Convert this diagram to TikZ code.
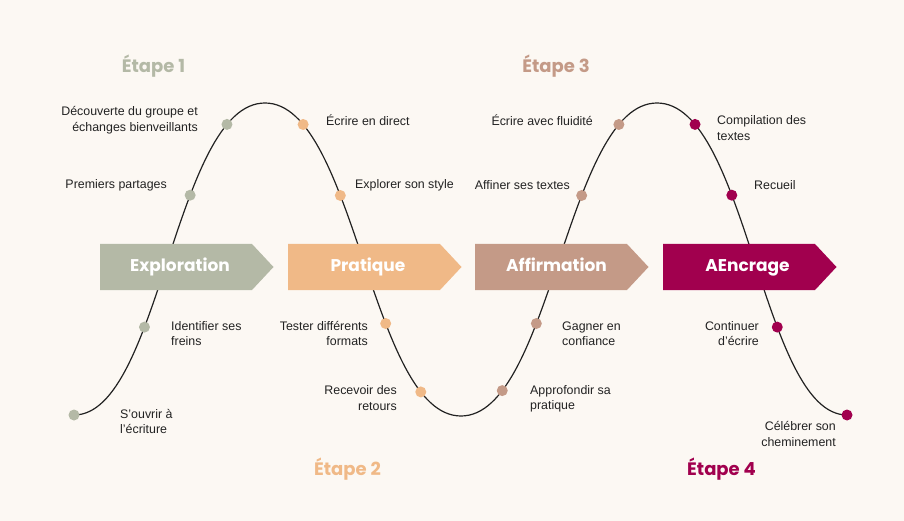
\documentclass[tikz,border=0pt]{standalone}
\usepackage{fontspec}
\setmainfont{Liberation Sans}
\newfontfamily\headfont{Poppins}
\usetikzlibrary{calc}
\definecolor{bg}{HTML}{FCF8F3}
\definecolor{sone}{HTML}{B4B9A6}
\definecolor{stwo}{HTML}{F0B987}
\definecolor{sthree}{HTML}{C49A87}
\definecolor{sfour}{HTML}{A1004E}
\definecolor{ink}{HTML}{222222}
\begin{document}
\begin{tikzpicture}[x=1pt,y=-1pt,
  dotnode/.style={circle,inner sep=0pt,minimum size=11pt},
  lbl/.style={font=\fontsize{12.4}{15.5}\selectfont,text=ink,inner sep=0pt},
  lblL/.style={lbl,align=left,anchor=west},
  lblR/.style={lbl,align=right,anchor=east},
  stagehead/.style={font=\headfont\bfseries\fontsize{18}{20}\selectfont,inner sep=0pt,anchor=base},
  phase/.style={font=\headfont\bfseries\fontsize{17}{20}\selectfont,text=white,inner sep=0pt,anchor=base},
  curve/.style={line width=1.2pt,draw=ink}]
\fill[bg] (0,0) rectangle (904,521);
\useasboundingbox (0,0) rectangle (904,521);

% curve anchors
\coordinate (c0) at (74,415);
\coordinate (p1) at (265,103);
\coordinate (t1) at (461,416);
\coordinate (p2) at (657,103);
\coordinate (c4) at (847,415);

\draw[curve] (c0) .. controls (160,415) and (175,103) .. (p1)
   node[pos=.35,dotnode,fill=sone] (a2) {}
   node[pos=.64,dotnode,fill=sone] (a3) {}
   node[pos=.84,dotnode,fill=sone] (a4) {}
  .. controls (355,103) and (371,416) .. (t1)
   node[pos=.16,dotnode,fill=stwo] (b1) {}
   node[pos=.36,dotnode,fill=stwo] (b2) {}
   node[pos=.64,dotnode,fill=stwo] (b3) {}
   node[pos=.83,dotnode,fill=stwo] (b4) {}
  .. controls (551,416) and (567,103) .. (p2)
   node[pos=.175,dotnode,fill=sthree] (e1) {}
   node[pos=.36,dotnode,fill=sthree] (e2) {}
   node[pos=.64,dotnode,fill=sthree] (e3) {}
   node[pos=.84,dotnode,fill=sthree] (e4) {}
  .. controls (747,103) and (762,415) .. (c4)
   node[pos=.16,dotnode,fill=sfour] (d1) {}
   node[pos=.36,dotnode,fill=sfour] (d2) {}
   node[pos=.65,dotnode,fill=sfour] (d3) {};
\node[dotnode,fill=sone] (a1) at (c0) {};
\node[dotnode,fill=sfour] (d4) at (c4) {};

% chevrons
\foreach \x/\c in {100/sone,288/stwo,475/sthree,663/sfour}{
  \fill[\c] (\x,244) -- (\x+152,244) -- (\x+173.5,267) -- (\x+152,290) -- (\x,290) -- cycle;
}
\node[phase] (ph1) at (180,271.5) {Exploration};
\node[phase] (ph2) at (368,271.5) {Pratique};
\node[phase] (ph3) at (556.5,271.5) {Affirmation};
\node[phase] (ph4) at (747.5,271.5) {AEncrage};

% stage titles
\node[stagehead,text=sone] (st1) at (153.5,72.5) {Étape 1};
\node[stagehead,text=stwo] (st2) at (347.5,475.5) {Étape 2};
\node[stagehead,text=sthree] (st3) at (556,72.5) {Étape 3};
\node[stagehead,text=sfour] (st4) at (721.5,475.5) {Étape 4};

% stage 1 labels
\node[lblL] (la1) at (120,421.5) {S’ouvrir à\\l’écriture};
\node[lblL] (la2) at (171,333.5) {Identifier ses\\freins};
\node[lblR] (la3) at (167,185) {Premiers partages};
\node[lblR] (la4) at (198,120) {Découverte du groupe et\\échanges bienveillants};
% stage 2 labels
\node[lblL] (lb1) at (326,120) {Écrire en direct};
\node[lblL] (lb2) at (355,185) {Explorer son style};
\node[lblR] (lb3) at (368,333.5) {Tester différents\\formats};
\node[lblR] (lb4) at (397,398) {Recevoir des\\retours};
% stage 3 labels
\node[lblL] (le1) at (530,399) {Approfondir sa\\pratique};
\node[lblL] (le2) at (562,333.5) {Gagner en\\confiance};
\node[lblR] (le3) at (570,185) {Affiner ses textes};
\node[lblR] (le4) at (593,120) {Écrire avec fluidité};
% stage 4 labels
\node[lblL] (ld1) at (717,128) {Compilation des\\textes};
\node[lblL] (ld2) at (754,185) {Recueil};
\node[lblR] (ld3) at (759,333.5) {Continuer\\d’écrire};
\node[lblR] (ld4) at (836,434) {Célébrer son\\cheminement};
\end{tikzpicture}
\end{document}
